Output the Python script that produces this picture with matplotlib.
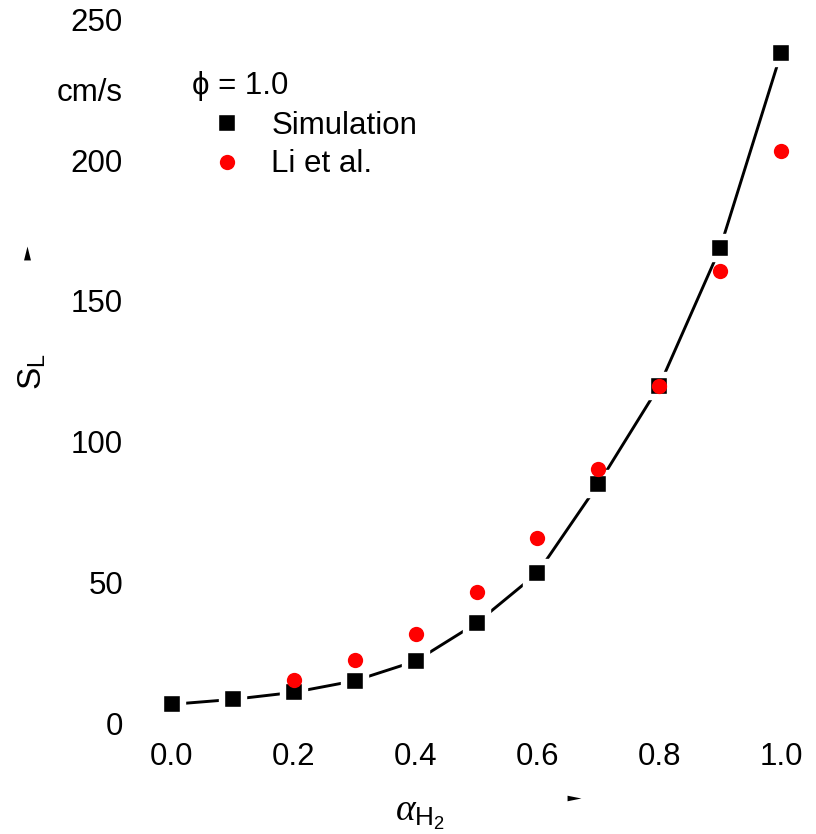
import matplotlib
matplotlib.use("Agg")
from matplotlib import pyplot as plt

plt.rcParams['font.family'] = ['Liberation Sans', 'DejaVu Sans']
plt.rcParams['mathtext.fontset'] = 'custom'
plt.rcParams['mathtext.rm'] = 'Liberation Sans'
plt.rcParams['mathtext.it'] = 'Liberation Serif:italic'

# hydrogen fraction
alpha_sim = [0.0, 0.1, 0.2, 0.3, 0.4, 0.5, 0.6, 0.7, 0.8, 0.9, 1.0]
sl_sim = [6.65, 8.4, 10.9, 15.0, 22.0, 35.5, 53.3, 84.9, 119.8, 168.8, 238.1]

alpha_li = [0.2, 0.3, 0.4, 0.5, 0.6, 0.7, 0.8, 0.9, 1.0]
sl_li = [15.3, 22.4, 31.6, 46.6, 65.7, 90.3, 119.8, 160.6, 203.3]

xticks = [0.0, 0.2, 0.4, 0.6, 0.8, 1.0]
yticks = [0, 50, 100, 150, 200, 225, 250]
ytick_labels = ['0', '50', '100', '150', '200', 'cm/s', '250']

fig = plt.figure(figsize=(8.16, 8.34), dpi=100)
ax = fig.add_axes([0.1734, 0.1162, 0.8211, 0.8671])

ax.plot(alpha_sim, sl_sim, color='black', lw=2.1, zorder=1)
ax.plot(alpha_sim, sl_sim, ls='none', marker='s', ms=15.5, mfc='black',
        mec='white', mew=4.6, label='Simulation', zorder=2)
ax.plot(alpha_li, sl_li, ls='none', marker='o', ms=11, mfc='red',
        mec='red', mew=0, label='Li et al.', zorder=3)

ax.set_xlim(-0.05, 1.05)
ax.set_ylim(-5, 252)
ax.set_xticks(xticks)
ax.set_xticklabels(['%.1f' % v for v in xticks])
ax.set_yticks(yticks)
ax.set_yticklabels(ytick_labels)
ax.tick_params(axis='both', length=0, labelsize=22.5)
ax.tick_params(axis='y', pad=13.3)
ax.tick_params(axis='x', pad=3.5)
for s in ax.spines.values():
    s.set_visible(False)

ax.set_xlabel(r'$\alpha_{\mathrm{H_2}}$', fontsize=27)
ax.xaxis.set_label_coords(0.4157, -0.082)
ax.set_ylabel(r'S$_\mathrm{L}$', fontsize=24)
ax.yaxis.set_label_coords(-0.1396, 0.506)

# small axis arrow heads
ax.plot([-0.1709], [0.6694], transform=ax.transAxes, clip_on=False, ls='none',
        marker=[(0, 1), (-0.5, -1), (0.5, -1), (0, 1)], ms=10, color='black', mew=0)
ax.plot([0.6455], [-0.0842], transform=ax.transAxes, clip_on=False, ls='none',
        marker=[(1, 0), (-1, 0.4), (-1, -0.4), (1, 0)], ms=10, color='black', mew=0)

fig.text(192 / 816, 1 - 94.3 / 834, '\u03d5 = 1.0', fontsize=22.5, va='baseline', ha='left')
ax.legend(loc='upper left', bbox_to_anchor=(211 / 816, 1 - 110.7 / 834),
          bbox_transform=fig.transFigure, frameon=False, fontsize=22.5,
          handlelength=1.0, handletextpad=0.93, labelspacing=0.28,
          borderpad=0, borderaxespad=0, numpoints=1)

fig.savefig('out.png', dpi=100)
